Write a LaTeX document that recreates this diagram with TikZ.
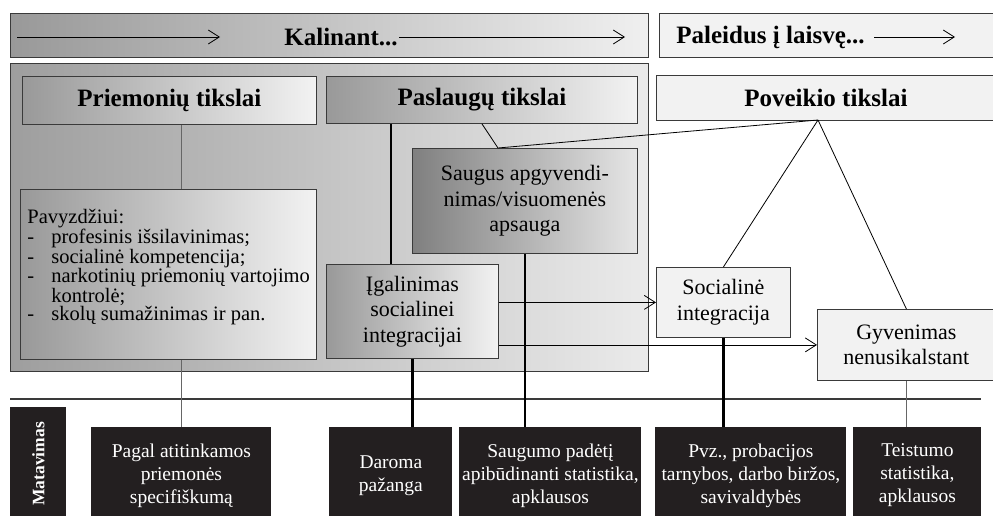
\documentclass[tikz,border=0pt]{standalone}
\usepackage{fontspec}
\setmainfont{Liberation Serif}
\usepackage{xcolor}
\usetikzlibrary{arrows.meta}
\definecolor{blk}{HTML}{231F20}
\definecolor{edge}{HTML}{3A3A3A}

\begin{document}
\begin{tikzpicture}[x=1pt,y=-1pt,line width=0.8pt,>={Straight Barb[length=11pt,width=14pt]}]
\tikzstyle{b}=[draw=edge,anchor=north west,inner sep=0pt,align=center,font=\fontsize{22}{25.5}\selectfont]
\tikzstyle{g}=[b,left color=black!40,right color=black!5]
\tikzstyle{w}=[b,fill=black!5]
\tikzstyle{hd}=[font=\fontsize{25}{30}\selectfont\bfseries]
\tikzstyle{m}=[b,draw=none,fill=blk,text=white,font=\fontsize{19.5}{23}\selectfont]
\tikzstyle{thk}=[line width=2.2pt]
\tikzstyle{thn}=[black!60,line width=1pt]
\useasboundingbox (0,0) rectangle (993,516);

% top bars
\node[g,left color=black!40,right color=black!6,minimum width=638,minimum height=44] (bar1) at (10,13) {};
\node[w,minimum width=340,minimum height=44] (bar2) at (659,13) {};
\node[hd,inner sep=1pt] (kal) at (341,37) {Kalinant...};
\node[hd,anchor=west,inner sep=1pt] (pal) at (675,37) {Paleidus į laisvę...};
\coordinate (k0) at (17,37);
\coordinate (k1) at (220,37);
\coordinate (k2) at (625,37);
\coordinate (p1) at (955,37);

% inside / outside
\node[g,left color=black!38,right color=black!8,minimum width=638,minimum height=308] (area) at (10,63) {};
\node[g,hd,minimum width=294,minimum height=48] (pt) at (22,76) {Priemonių tikslai};
\node[g,hd,minimum width=311,minimum height=47] (st) at (326,76) {Paslaugų tikslai};
\node[w,hd,minimum width=339,minimum height=45] (vt) at (656,75) {Poveikio tikslai};

\node[g,minimum width=296,minimum height=170] (pav) at (20,189) {};
\node[anchor=north west,align=left,inner sep=0pt,font=\fontsize{20.5}{18.5}\selectfont] (pavt) at (27,209)
  {Pavyzdžiui:\\
   \makebox[24pt][l]{-}profesinis išsilavinimas;\\
   \makebox[24pt][l]{-}socialinė kompetencija;\\
   \makebox[24pt][l]{-}narkotinių priemonių vartojimo\\
   \hspace*{24pt}kontrolė;\\
   \makebox[24pt][l]{-}skolų sumažinimas ir pan.};
\node[g,left color=black!50,right color=black!10,minimum width=225,minimum height=105] (sg) at (412,148) {Saugus apgyvendi-\\nimas/visuomenės\\apsauga};
\node[g,minimum width=172,minimum height=94] (ig) at (326,264) {Įgalinimas\\socialinei\\integracijai};
\node[w,minimum width=134,minimum height=70] (si) at (656,267) {Socialinė\\integracija};
\node[w,minimum width=178,minimum height=71] (gn) at (817,309) {Gyvenimas\\nenusikalstant};
\coordinate (ap) at (818,120);
\coordinate (sj) at (498,148);

% measuring
\coordinate (h0) at (10,399);
\coordinate (h1) at (981,399);
\node[m,minimum width=56,minimum height=113] (mat) at (10,407) {\rotatebox{90}{\fontsize{17.5}{20}\selectfont\bfseries Matavimas}};
\node[m,minimum width=180,minimum height=96] (pg) at (91,427) {Pagal atitinkamos\\priemonės\\specifiškumą};
\node[m,minimum width=123,minimum height=96] (dp) at (329,427) {Daroma\\pažanga};
\node[m,minimum width=182,minimum height=96] (sm) at (459,427) {Saugumo padėtį\\apibūdinanti statistika,\\apklausos};
\node[m,minimum width=191,minimum height=96] (pv) at (655,427) {Pvz., probacijos\\tarnybos, darbo biržos,\\savivaldybės};
\node[m,minimum width=128,minimum height=96] (ts) at (853,427) {Teistumo\\statistika,\\apklausos};

% connectors
\draw[->] (k0) -- (k1);
\draw[->] (kal.east) -- (k2);
\draw[->] ([xshift=8pt]pal.east) -- (p1);
\draw[edge,line width=1.2pt] (h0) -- (h1);
\draw[thn] (pg.north |- pt.south) -- (pg.north |- pav.north);
\draw[thn] (pg.north |- pav.south) -- (pg.north);
\draw[thk] (dp.north |- st.south) -- (dp.north |- ig.north);
\draw[thk] (ig.south) -- (ig.south |- dp.north);
\draw[thk] (sg.south) -- (sg.south |- sm.north);
\draw[thk] (si.south) -- (si.south |- pv.north);
\draw[thn] (gn.south) -- (gn.south |- ts.north);
\draw (st.south) -- (sj) -- (ap);
\draw (ap) -- (si.north);
\draw (ap) -- (gn.north);
\draw[->] (ig.east |- si.west) -- (si.west);
\draw[->] (ig.east |- gn.west) -- (gn.west);
\end{tikzpicture}
\end{document}
